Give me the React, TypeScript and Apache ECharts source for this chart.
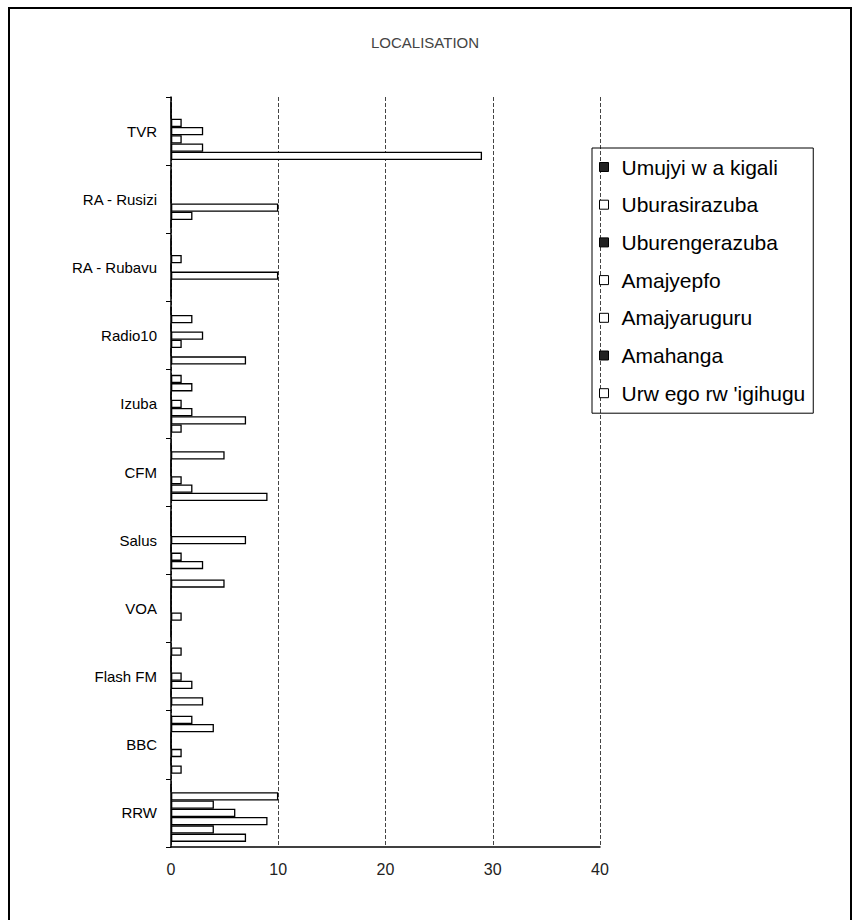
import React, { useEffect, useRef } from "react";
import * as echarts from "echarts";

const categories = ["RRW", "BBC", "Flash FM", "VOA", "Salus", "CFM", "Izuba", "Radio10", "RA - Rubavu", "RA - Rusizi", "TVR"];
const seriesNames = ["Umujyi w a kigali", "Uburasirazuba", "Uburengerazuba", "Amajyepfo", "Amajyaruguru", "Amahanga", "Urw ego rw 'igihugu"];
const umujyi = [7, 1, 3, 0, 3, 9, 1, 7, 0, 0, 29];
const uburasirazuba = [4, 0, 0, 0, 1, 2, 7, 0, 0, 2, 3];
const uburengerazuba = [9, 1, 2, 1, 0, 1, 2, 1, 10, 10, 1];
const amajyepfo = [6, 0, 1, 0, 7, 0, 1, 3, 0, 0, 3];
const amajyaruguru = [4, 0, 0, 0, 0, 0, 0, 0, 1, 0, 1];
const amahanga = [10, 4, 0, 0, 0, 5, 2, 2, 0, 0, 0];
const urwego = [0, 2, 1, 5, 0, 0, 1, 0, 0, 0, 0];
const xTicks = [0, 10, 20, 30, 40];
const darkSeries = [true, false, true, false, false, true, false];

export default function App() {
  const ref = useRef<HTMLDivElement>(null);
  useEffect(() => {
    if (!ref.current) return;
    const chart = echarts.init(ref.current, null, { renderer: "svg" });
    const values = [umujyi, uburasirazuba, uburengerazuba, amajyepfo, amajyaruguru, amahanga, urwego];
    // ECharts places the first series at the top of each group; the reference
    // has the first series (Umujyi) at the bottom, so series are added in reverse.
    const series = seriesNames
      .map((name, i) => ({
        name,
        type: "bar",
        data: values[i],
        barGap: "0%",
        barCategoryGap: "15%",
        itemStyle: { color: "#ffffff", borderColor: "#000", borderWidth: 1.3 },
      }))
      .reverse();
    chart.setOption({
      animation: false,
      backgroundColor: "#fff",
      title: {
        text: "LOCALISATION",
        left: 366,
        top: 30,
        textStyle: { fontFamily: "Liberation Sans", fontSize: 15, fontWeight: "normal", color: "#444" },
      },
      graphic: [
        { type: "line", shape: { x1: 9, y1: 8, x2: 851, y2: 8 }, style: { stroke: "#000", lineWidth: 2 } },
        { type: "line", shape: { x1: 9, y1: 7, x2: 9, y2: 920 }, style: { stroke: "#000", lineWidth: 2 } },
        { type: "line", shape: { x1: 851, y1: 7, x2: 851, y2: 920 }, style: { stroke: "#000", lineWidth: 2 } },
      ],
      legend: {
        orient: "vertical",
        left: 592,
        top: 148,
        padding: [8, 8, 9, 7],
        itemGap: 15.7,
        itemWidth: 9,
        itemHeight: 9,
        icon: "rect",
        borderColor: "#000",
        borderWidth: 1,
        data: seriesNames.map((n, i) => ({
          name: n,
          itemStyle: darkSeries[i]
            ? { color: "#222", borderColor: "#000", borderWidth: 1 }
            : { color: "#fff", borderColor: "#000", borderWidth: 1 },
        })),
        textStyle: { fontFamily: "Liberation Sans", fontSize: 21, lineHeight: 22, color: "#000", padding: [0, 0, 0, 8] },
      },
      grid: { left: 171, right: 259, top: 97, bottom: 73, containLabel: false },
      xAxis: {
        type: "value",
        min: xTicks[0],
        max: xTicks[xTicks.length - 1],
        interval: 10,
        axisLine: { show: true, lineStyle: { color: "#000", width: 1.5 } },
        axisTick: { show: false },
        axisLabel: { fontFamily: "Liberation Sans", fontSize: 16, color: "#222", margin: 14 },
        splitLine: { show: true, lineStyle: { color: "#444", type: [4, 2], width: 1 } },
      },
      yAxis: {
        type: "category",
        data: categories,
        axisLine: { show: true, lineStyle: { color: "#000", width: 1.5 } },
        axisTick: { show: true, length: 5, lineStyle: { color: "#000" } },
        axisLabel: { fontFamily: "Liberation Sans", fontSize: 15, color: "#000", margin: 14 },
      },
      series,
    });
    return () => chart.dispose();
  }, []);
  return <div ref={ref} style={{ position: "fixed", left: 0, top: 0, width: 859, height: 920, background: "#fff" }} />;
}
